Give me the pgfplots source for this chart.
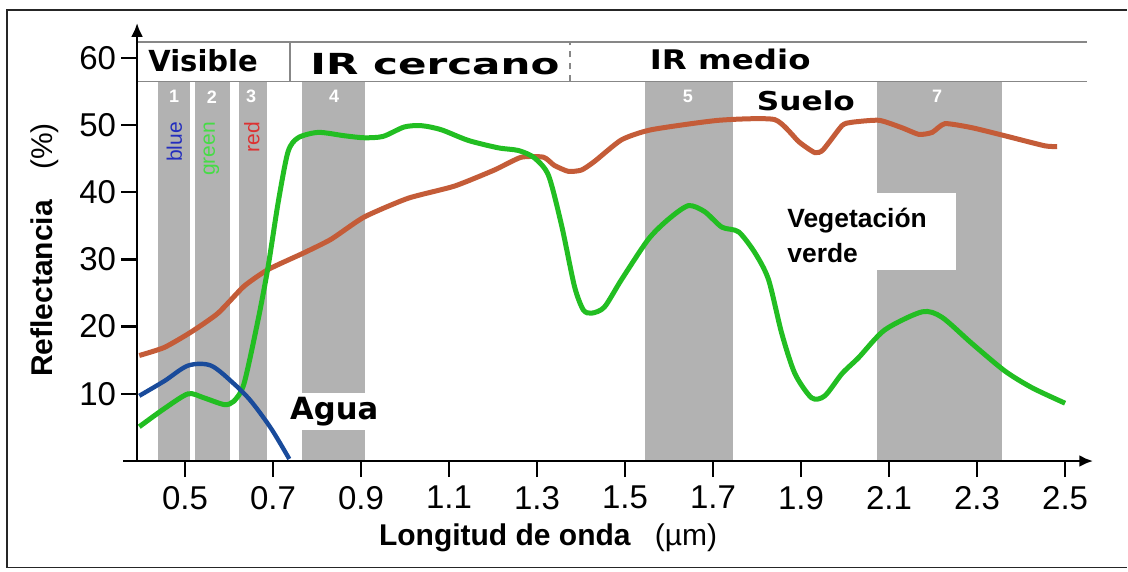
\documentclass[border=0pt]{standalone}
\usepackage{pgfplots}
\pgfplotsset{compat=1.18}
\usepackage{graphicx}
\usepackage{fontspec}
\setmainfont{Liberation Sans}
\newfontfamily\dejavu{DejaVu Sans}
\usetikzlibrary{arrows.meta}
\definecolor{soil}{RGB}{196,92,56}
\definecolor{veg}{RGB}{34,190,34}
\definecolor{water}{RGB}{25,75,155}
\definecolor{bandgray}{RGB}{178,178,178}
\definecolor{hdr}{RGB}{135,135,135}
\definecolor{tblue}{RGB}{35,45,190}
\definecolor{tgreen}{RGB}{70,220,70}
\definecolor{tred}{RGB}{220,50,50}
\begin{document}
\begin{tikzpicture}
\begin{axis}[
  x=220pt, y=3.36pt,
  xmin=0.391, xmax=2.564, ymin=0, ymax=65.2,
  axis lines=left,
  axis line style={line width=1.4pt, -{Latex[length=7pt,width=6pt]}},
  xtick={0.5,0.7,0.9,1.1,1.3,1.5,1.7,1.9,2.1,2.3,2.5},
  ytick={10,20,30,40,50,60},
  tick align=outside, major tick length=8pt,
  tick style={line width=1.2pt, black},
  /pgf/number format/assume math mode=true,
  xticklabel style={font=\fontsize{16.5}{18}\selectfont, /pgf/number format/fixed, /pgf/number format/precision=1, /pgf/number format/fixed zerofill, yshift=-1pt},
  yticklabel style={font=\fontsize{16.5}{18}\selectfont, xshift=1pt},
  clip=false,
  axis on top=true,
]
% bounding box and frame
\path (axis cs:0.0795,-16.37) rectangle (axis cs:2.643,68.6);
\draw[black!85, line width=0.6pt] (axis cs:2.64,67.1) -- (axis cs:0.0955,67.1) -- (axis cs:0.0955,-15.8) -- (axis cs:2.64,-15.8);

% Landsat bands
\addplot[fill=bandgray, draw=none] coordinates {(0.439,0) (0.439,56.5) (0.511,56.5) (0.511,0)};
\addplot[fill=bandgray, draw=none] coordinates {(0.523,0) (0.523,56.5) (0.602,56.5) (0.602,0)};
\addplot[fill=bandgray, draw=none] coordinates {(0.623,0) (0.623,56.5) (0.686,56.5) (0.686,0)};
\addplot[fill=bandgray, draw=none] coordinates {(0.766,0) (0.766,56.5) (0.909,56.5) (0.909,0)};
\addplot[fill=bandgray, draw=none] coordinates {(1.545,0) (1.545,56.5) (1.745,56.5) (1.745,0)};
\addplot[fill=bandgray, draw=none] coordinates {(2.073,0) (2.073,56.5) (2.357,56.5) (2.357,0)};
% white label boxes
\addplot[fill=white, draw=none] coordinates {(0.76,4.6) (0.76,10.1) (0.915,10.1) (0.915,4.6)};
\addplot[fill=white, draw=none] coordinates {(2.0,28.4) (2.0,39.9) (2.252,39.9) (2.252,28.4)};

% header
\addplot[hdr, line width=0.8pt] coordinates {(0.391,62.35) (2.55,62.35)};
\addplot[hdr, line width=0.8pt] coordinates {(0.391,56.5) (2.55,56.5)};
\addplot[hdr, line width=0.8pt] coordinates {(0.739,56.5) (0.739,62.35)};
\addplot[hdr, line width=0.8pt, dashed] coordinates {(1.375,56.5) (1.375,62.35)};
% axis extension left of y axis
\addplot[black, line width=1.4pt] coordinates {(0.36,0) (0.392,0)};

% Suelo (soil)
\addplot[soil, line width=2.5pt, smooth, tension=0.35] coordinates {
(0.396,15.7) (0.453,16.9) (0.514,19.2) (0.575,22) (0.634,26) (0.689,28.5) (0.771,31)
(0.832,33) (0.907,36.3) (1.007,39.1) (1.112,40.9) (1.203,43.3) (1.264,45.2) (1.315,45.2)
(1.339,44) (1.371,43.1) (1.401,43.3) (1.431,44.6) (1.492,47.8) (1.560,49.3) (1.713,50.7)
(1.840,50.8) (1.895,47.5) (1.931,45.9) (1.95,46.3) (1.993,49.9) (2.015,50.4) (2.077,50.7)
(2.129,49.6) (2.168,48.6) (2.198,48.9) (2.227,50.2) (2.288,49.6) (2.363,48.4) (2.454,46.9)
(2.482,46.8)};

% Vegetacion verde
\addplot[veg, line width=2.5pt, smooth, tension=0.45] coordinates {
(0.396,5.1) (0.453,7.8) (0.507,10.0) (0.543,9.4) (0.589,8.4) (0.611,8.9) (0.634,11.5)
(0.666,21) (0.689,29) (0.712,38.6) (0.734,46) (0.757,48.1) (0.803,48.9) (0.862,48.4)
(0.907,48.1) (0.95,48.3) (0.998,49.7) (1.037,49.9) (1.082,49.3) (1.144,47.7) (1.212,46.6)
(1.258,46.2) (1.294,45.1) (1.326,42.5) (1.356,35) (1.385,26) (1.405,22.5) (1.424,22)
(1.453,22.9) (1.492,27) (1.553,33) (1.599,36) (1.644,38) (1.681,37.1) (1.720,34.8)
(1.758,34.1) (1.795,31) (1.826,27) (1.856,19) (1.886,13) (1.924,9.4) (1.954,9.7)
(1.993,13) (2.031,15.4) (2.090,19.5) (2.175,22.2) (2.220,21.4) (2.288,17.5) (2.363,13.4)
(2.425,10.9) (2.5,8.6)};

% Agua
\addplot[water, line width=2.2pt, smooth, tension=0.5] coordinates {
(0.396,9.7) (0.453,11.9) (0.507,14.2) (0.559,14.2) (0.611,11.5) (0.650,8.9) (0.696,4.8) (0.737,0.3)};

% header labels
\node[font=\dejavu\bfseries\fontsize{14.5}{16}\selectfont] at (axis cs:0.541,59.5) {Visible};
\node[font=\dejavu\bfseries\fontsize{14.5}{16}\selectfont] at (axis cs:1.068,59.1) {\scalebox{1.45}[1]{IR cercano}};
\node[font=\dejavu\bfseries\fontsize{13.5}{15}\selectfont] at (axis cs:1.739,59.7) {\scalebox{1.2}[1]{IR medio}};
\node[font=\dejavu\bfseries\fontsize{13}{15}\selectfont] at (axis cs:1.911,53.6) {\scalebox{1.2}[1]{Suelo}};

% band numbers
\foreach \xx/\nn in {0.475/1,0.561/2,0.650/3,0.839/4,1.643/5,2.209/7}{
  \edef\tmp{\noexpand\node[text=white, font=\noexpand\bfseries\noexpand\fontsize{9}{10}\noexpand\selectfont] at (axis cs:\xx,54.2) {\nn};}
  \tmp
}
\node[rotate=90, anchor=east, text=tblue, font=\fontsize{10.5}{12}\selectfont, inner sep=0pt] at (axis cs:0.476,50.5) {blue};
\node[rotate=90, anchor=east, text=tgreen, font=\fontsize{10.5}{12}\selectfont, inner sep=0pt] at (axis cs:0.560,50.5) {green};
\node[rotate=90, anchor=east, text=tred, font=\fontsize{10.5}{12}\selectfont, inner sep=0pt] at (axis cs:0.652,50.5) {red};

% curve labels
\node[font=\dejavu\bfseries\fontsize{15.3}{17}\selectfont] at (axis cs:0.839,7.4) {Agua};
\node[anchor=west, align=left, inner sep=0pt, font=\bfseries\fontsize{13.2}{17.5}\selectfont] at (axis cs:1.868,33.6) {Vegetación\\verde};

% axis titles
\node[font=\fontsize{15}{17}\selectfont] at (axis cs:1.325,-11.5) {\textbf{Longitud de onda}\hspace{0.8em}(µm)};
\node[rotate=90, font=\fontsize{15}{17}\selectfont] at (axis cs:0.182,31.4) {\textbf{Reflectancia}\hspace{1em}(\%)};
\end{axis}
\end{tikzpicture}
\end{document}
